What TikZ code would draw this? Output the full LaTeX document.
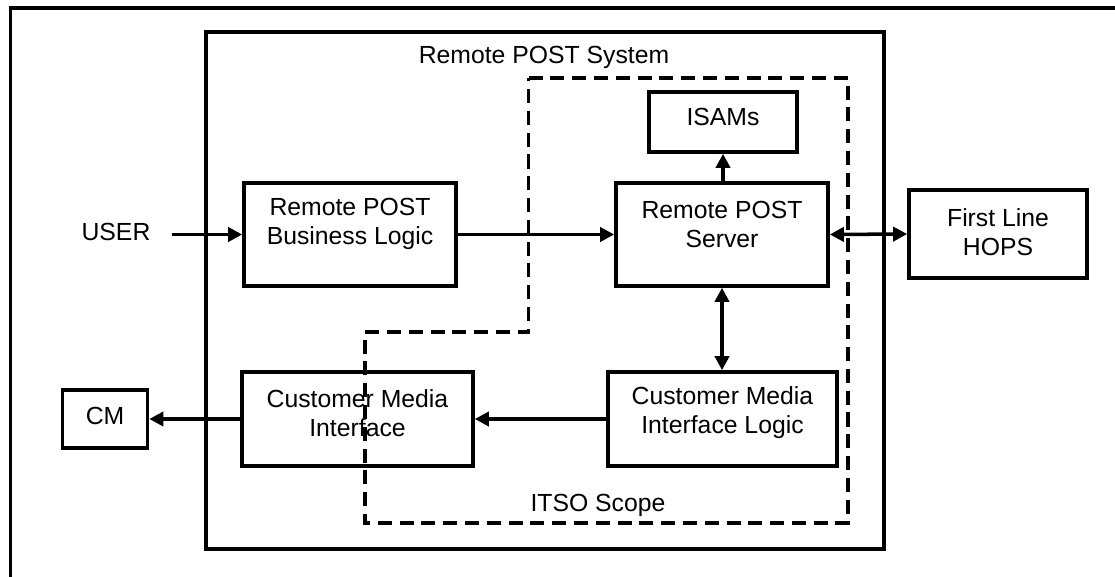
\documentclass[tikz,border=0pt]{standalone}
\usepackage{fontspec}
\setmainfont{Liberation Sans}
\usetikzlibrary{arrows.meta, positioning}

\begin{document}
\begin{tikzpicture}[x=0.025cm, y=-0.025cm,
  blk/.style={draw, line width=2.5pt, inner sep=0pt},
  lbl/.style={font=\fontsize{17.6}{20.6}\selectfont, align=center, inner sep=0pt},
  arr/.style={line width=2.5pt, -{Triangle[length=10pt, width=10pt]}},
  biarr/.style={line width=2.5pt, {Triangle[length=10pt, width=10pt]}-{Triangle[length=10pt, width=10pt]}},
  itso/.style={line width=2.5pt, dash pattern=on 10pt off 5.5pt}]
  \useasboundingbox (0,0) rectangle (1115,577);

  % Outer frame (runs off the page)
  \draw[line width=2.3pt] (10.7,577) |- (1115,8);

  % Remote POST system
  \node[blk, minimum width=16.95cm, minimum height=12.925cm] (system) at (545,290.5) {};
  \node[lbl] (system-t) at (544,57) {Remote POST System};

  % ITSO scope
  \draw[itso] (528.6,78) -- (848,78) -- (848,523) -- (365,523) -- (365,332) -- (528.6,332) -- cycle;
  \node[lbl] (itso-t) at (598,505) {ITSO Scope};

  % Blocks
  \node[lbl] (user) at (116,232) {USER};

  \node[blk, minimum width=5.3cm, minimum height=2.575cm] (logic) at (350,234.5) {};
  \node[lbl] (logic-t) at (350,224) {Remote POST\\Business Logic};

  \node[blk, minimum width=5.3cm, minimum height=2.575cm] (server) at (722,234.5) {};
  \node[lbl] (server-t) at (722,224) {Remote POST\\Server};

  \node[blk, minimum width=3.7cm, minimum height=1.5cm] (isams) at (723,122) {};
  \node[lbl] (isams-t) at (723,117) {ISAMs};

  \node[blk, minimum width=4.45cm, minimum height=2.2cm] (hops) at (998,234) {};
  \node[lbl] (hops-t) at (998,232) {First Line\\HOPS};

  \node[blk, minimum width=5.775cm, minimum height=2.35cm] (cmi) at (357.5,419) {};
  \node[lbl] (cmi-t) at (357.5,413) {Customer Media\\Interface};

  \node[blk, minimum width=5.725cm, minimum height=2.35cm] (cmil) at (722.5,419) {};
  \node[lbl] (cmil-t) at (722.5,413) {Customer Media\\Interface Logic};

  \node[blk, minimum width=2.125cm, minimum height=1.45cm] (cm) at (105,419) {};
  \node[lbl] (cm-t) at (105,416) {CM};

  % Connectors
  \draw[arr, shorten <=15pt] (user.east |- logic.west) -- (logic.west);
  \draw[arr] (logic) -- (server);
  \draw[arr] (server.north -| isams.south) -- (isams.south);
  \draw[biarr] (server.east) -- (hops.west);
  \draw[biarr] (server.south) -- (server.south |- cmil.north);
  \draw[arr] (cmil) -- (cmi);
  \draw[arr] (cmi) -- (cm);
\end{tikzpicture}
\end{document}
